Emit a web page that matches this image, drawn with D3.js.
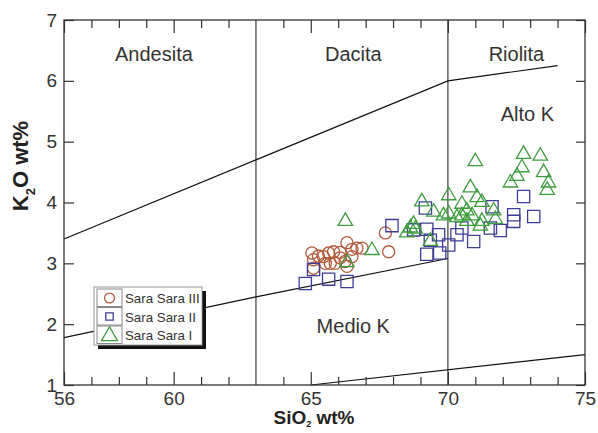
<!DOCTYPE html>
<html>
<head>
<meta charset="utf-8">
<script src="https://cdn.jsdelivr.net/npm/d3@7"></script>
<style>
	body { margin: 0; background: #fff; }
	svg { font-family: "Liberation Sans", Arial, sans-serif; }
	.tick text { font-size: 19px; fill: #333; }
</style>
</head>
<body>
<svg class="viz" width="598" height="433"></svg>
<script>
// *** Data (SiO2, K2O) ***
const saraIII = [
	[65.04, 3.17], [65.28, 3.12], [65.10, 3.06], [65.46, 3.11], [65.65, 3.17],
	[65.83, 3.19], [66.07, 3.18], [66.32, 3.34], [66.50, 3.23], [66.68, 3.25],
	[66.87, 3.25], [67.72, 3.50], [67.84, 3.19], [65.71, 3.00], [65.89, 3.00],
	[65.53, 3.00], [66.32, 2.95], [65.10, 2.92], [66.07, 3.09], [66.50, 3.11],
	[66.25, 3.03]
];
const saraII = [
	[64.80, 2.67], [65.65, 2.74], [66.32, 2.70], [65.10, 2.90], [67.96, 3.62],
	[68.75, 3.55], [69.23, 3.56], [69.66, 3.47], [69.23, 3.15], [69.70, 3.17],
	[70.03, 3.30], [69.18, 3.91], [69.36, 3.38], [70.33, 3.47], [70.51, 3.58],
	[70.94, 3.36], [71.55, 3.58], [71.61, 3.93], [71.91, 3.54], [72.40, 3.80],
	[72.40, 3.69], [72.76, 4.10], [73.13, 3.77]
];
const saraI = [
	[66.26, 3.71], [67.23, 3.23], [66.32, 3.03], [68.50, 3.52], [68.81, 3.58],
	[69.05, 4.03], [69.48, 3.86], [68.75, 3.66], [69.36, 3.38], [70.03, 4.13],
	[70.03, 3.83], [71.00, 4.69], [72.76, 4.81], [73.37, 4.78], [72.70, 4.59],
	[72.52, 4.45], [72.28, 4.34], [73.49, 4.51], [73.67, 4.34], [73.62, 4.22],
	[70.82, 4.26], [70.51, 3.99], [70.69, 3.88], [71.06, 4.10], [71.24, 4.02],
	[71.67, 3.88], [71.73, 3.74], [70.88, 3.80], [71.24, 3.71], [70.51, 3.80],
	[70.69, 3.71], [68.63, 3.60], [71.18, 3.63], [70.33, 3.77], [69.84, 3.80]
];

// Field boundaries
const highKLine = [[56, 3.4], [63, 4.7], [70, 6.0], [74, 6.25]];
const medKLine = [[56, 1.78], [63, 2.45], [70, 3.08]];
const lowKLine = [[65, 1.0], [75, 1.5]];
const dividers = [63, 70];

const fieldLabels = [
	{ text: "Andesita", x: 59.28, y: 6.33 },
	{ text: "Dacita", x: 66.55, y: 6.33 },
	{ text: "Riolita", x: 72.5, y: 6.33 },
	{ text: "Alto K", x: 72.9, y: 5.34 },
	{ text: "Medio K", x: 66.55, y: 1.86 }
];

const xMajor = [56, 60, 65, 70, 75];
const xMinor = [57, 58, 59, 61, 62, 64, 66, 67, 68, 69, 71, 72, 73, 74];
const yTicks = [1, 2, 3, 4, 5, 6, 7];

const series = [
	{ name: "Sara Sara III", data: saraIII, shape: "circle", color: "#b25a3c" },
	{ name: "Sara Sara II", data: saraII, shape: "square", color: "#3d3c96" },
	{ name: "Sara Sara I", data: saraI, shape: "triangle", color: "#3f9c3f" }
];

function render() {
	let grph = d3.select(".viz");
	const left = 64, right = 585, top = 20, bttm = 385;

	let x = d3.scaleLinear().domain([56, 75]).range([left, right]);
	let y = d3.scaleLinear().domain([1, 7]).range([bttm, top]);

	let line = d3.line()
		.x((d) => x(d[0]))
		.y((d) => y(d[1]));

	// *** Boundary lines ***
	grph.selectAll(".divider").data(dividers).enter().append("line")
		.attr("x1", (d) => x(d)).attr("x2", (d) => x(d))
		.attr("y1", y(1)).attr("y2", y(7))
		.attr("stroke", "#4a4a4a").attr("stroke-width", 1.3);

	[highKLine, medKLine, lowKLine].forEach((pts) => {
		grph.append("path")
			.attr("d", line(pts))
			.attr("fill", "none")
			.attr("stroke", "#111")
			.attr("stroke-width", 1.2);
	});

	// *** Axes (ticks point inward) ***
	const noDomain = (g) => g.select(".domain").remove();
	grph.append("g").attr("transform", "translate(0," + bttm + ")")
		.call(d3.axisBottom(x).tickValues(xMinor).tickSize(-8).tickFormat(""))
		.call(noDomain);
	grph.append("g").attr("transform", "translate(0," + bttm + ")")
		.call(d3.axisBottom(x).tickValues(xMajor).tickSize(-13).tickPadding(7).tickFormat(d3.format("d")))
		.call(noDomain);
	grph.append("g").attr("transform", "translate(0," + top + ")")
		.call(d3.axisTop(x).tickValues(xMinor).tickSize(-8).tickFormat(""))
		.call(noDomain);
	grph.append("g").attr("transform", "translate(0," + top + ")")
		.call(d3.axisTop(x).tickValues(xMajor).tickSize(-13).tickFormat(""))
		.call(noDomain);
	grph.append("g").attr("transform", "translate(" + left + ",0)")
		.call(d3.axisLeft(y).tickValues(yTicks).tickSize(-10).tickPadding(7).tickFormat(d3.format("d")))
		.call(noDomain);
	grph.append("g").attr("transform", "translate(" + right + ",0)")
		.call(d3.axisRight(y).tickValues(yTicks).tickSize(-9).tickFormat(""))
		.call(noDomain);
	grph.selectAll(".tick line").attr("stroke", "#333").attr("stroke-width", 1.2);

	grph.append("rect")
		.attr("x", left).attr("y", top)
		.attr("width", right - left).attr("height", bttm - top)
		.attr("fill", "none").attr("stroke", "#333").attr("stroke-width", 1.3);

	// *** Field labels ***
	grph.selectAll(".flabel").data(fieldLabels).enter().append("text")
		.attr("x", (d) => x(d.x)).attr("y", (d) => y(d.y))
		.attr("text-anchor", "middle")
		.attr("font-size", 20).attr("fill", "#333")
		.text((d) => d.text);

	// *** Axis titles ***
	let xt = grph.append("text")
		.attr("x", 314).attr("y", 424)
		.attr("text-anchor", "middle")
		.attr("font-size", 19).attr("font-weight", "bold").attr("fill", "#222");
	xt.append("tspan").text("SiO");
	xt.append("tspan").attr("font-size", 9).attr("dy", 3).text("2");
	xt.append("tspan").attr("dy", -3).text(" wt%");

	let yt = grph.append("text")
		.attr("transform", "translate(28,166)rotate(-90)")
		.attr("text-anchor", "middle")
		.attr("font-size", 22).attr("font-weight", "bold").attr("fill", "#222");
	yt.append("tspan").text("K");
	yt.append("tspan").attr("font-size", 13).attr("dy", 7).text("2");
	yt.append("tspan").attr("dy", -7).text("O wt%");

	// *** Points ***
	const symbolFor = (shape, size) => {
		if (shape === "circle") return d3.symbol().type(d3.symbolCircle).size(size || 115)();
		if (shape === "square") return d3.symbol().type(d3.symbolSquare).size(size || 150)();
		return d3.symbol().type(d3.symbolTriangle).size(size || 90)();
	};
	series.forEach((s) => {
		grph.append("g").selectAll("path").data(s.data).enter().append("path")
			.attr("d", symbolFor(s.shape))
			.attr("transform", (d) => "translate(" + x(d[0]) + "," + (y(d[1]) + (s.shape === "triangle" ? 1 : 0)) + ")")
			.attr("fill", "none")
			.attr("stroke", s.color)
			.attr("stroke-width", 1.3);
	});

	// *** Legend ***
	let lg = grph.append("g").attr("transform", "translate(94,287)");
	lg.append("rect").attr("x", 4).attr("y", 4).attr("width", 108).attr("height", 58).attr("fill", "#111");
	lg.append("rect").attr("width", 108).attr("height", 58)
		.attr("fill", "#fff").attr("stroke", "#999").attr("stroke-width", 1);
	series.forEach((s, i) => {
		let row = lg.append("g").attr("transform", "translate(0," + (2 + i * 18.5) + ")");
		row.append("rect").attr("x", 3).attr("y", 0).attr("width", 25).attr("height", 17.5)
			.attr("fill", "none").attr("stroke", "#888");
		row.append("path")
			.attr("d", symbolFor(s.shape, s.shape === "triangle" ? 110 : (s.shape === "square" ? 55 : 75)))
			.attr("transform", "translate(15.5," + (s.shape === "triangle" ? 10 : 9) + ")")
			.attr("fill", "none").attr("stroke", s.color).attr("stroke-width", 1.3);
		row.append("text").attr("x", 31).attr("y", 14)
			.attr("font-size", 13.3).attr("fill", "#333")
			.text(s.name);
	});
}

render();
</script>
</body>
</html>
